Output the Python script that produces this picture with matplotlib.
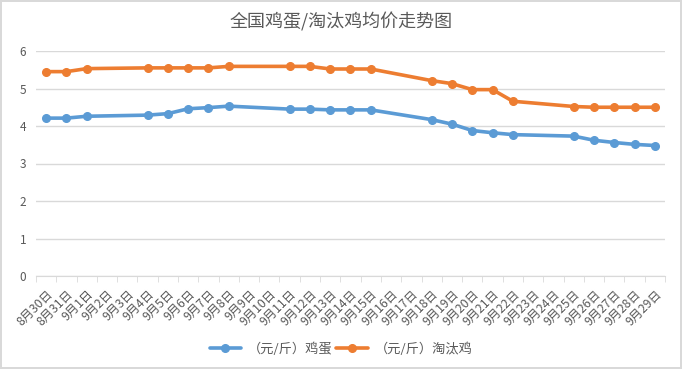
import numpy as np
import matplotlib.pyplot as plt

plt.rcParams['font.family'] = ['Noto Sans CJK SC', 'DejaVu Sans']

dates = ['8月30日', '8月31日'] + [f'9月{d}日' for d in range(1, 30)]

# values on the days that have data; None = no quote that day
egg = [4.21, 4.21, 4.26, None, None, 4.29, 4.33, 4.46, 4.49, 4.53,
       None, None, 4.45, 4.45, 4.43, 4.43, 4.43, None, None, 4.17,
       4.05, 3.88, 3.82, 3.77, None, None, 3.73, 3.62, 3.56, 3.51, 3.48]
hen = [5.45, 5.45, 5.53, None, None, 5.55, 5.55, 5.55, 5.55, 5.59,
       None, None, 5.59, 5.59, 5.52, 5.52, 5.52, None, None, 5.21,
       5.13, 4.97, 4.97, 4.66, None, None, 4.52, 4.50, 4.50, 4.50, 4.50]

fig = plt.figure(figsize=(6.82, 3.69), dpi=100)
fig.patch.set_edgecolor('#d9d9d9')
fig.patch.set_linewidth(1.5)
ax = fig.add_axes([36 / 682, 1 - 276 / 369, 629 / 682, 225 / 369])

grey = '#595959'
for vals, color, label in [(egg, '#5B9BD5', '（元/斤）鸡蛋'),
                           (hen, '#ED7D31', '（元/斤）淘汰鸡')]:
    x = [i for i, v in enumerate(vals) if v is not None]
    y = [v for v in vals if v is not None]
    ax.plot(x, y, color=color, lw=2.6, marker='o', ms=5.5, label=label,
            solid_capstyle='round', solid_joinstyle='round')

ax.set_xlim(-0.5, len(dates) - 0.5)
ax.set_ylim(0, 6)
ax.set_yticks(range(7))
ax.grid(axis='y', color='#d9d9d9', lw=1)
ax.set_axisbelow(True)
for s in ['top', 'right', 'left']:
    ax.spines[s].set_visible(False)
ax.spines['bottom'].set_color('#d9d9d9')
ax.set_xticks(np.arange(len(dates) + 1) - 0.5, minor=True)
ax.set_xticks(range(len(dates)))
ax.set_xticklabels(dates, rotation=45, ha='right', rotation_mode='anchor',
                   fontsize=8.8, color=grey)
ax.tick_params(axis='x', which='major', length=0, pad=8)
ax.tick_params(axis='x', which='minor', length=4, color='#d9d9d9')
ax.tick_params(axis='y', length=0, labelsize=8.5, labelcolor=grey, pad=7)

fig.suptitle('全国鸡蛋/淘汰鸡均价走势图', y=0.967, fontsize=13, color=grey)
fig.legend(loc='center', bbox_to_anchor=(0.5, 1 - 349 / 369), ncol=2,
           frameon=False, fontsize=9.5, labelcolor=grey, handlelength=2.4,
           columnspacing=0.3, handletextpad=0.5)

fig.savefig('out.png', dpi=100)
